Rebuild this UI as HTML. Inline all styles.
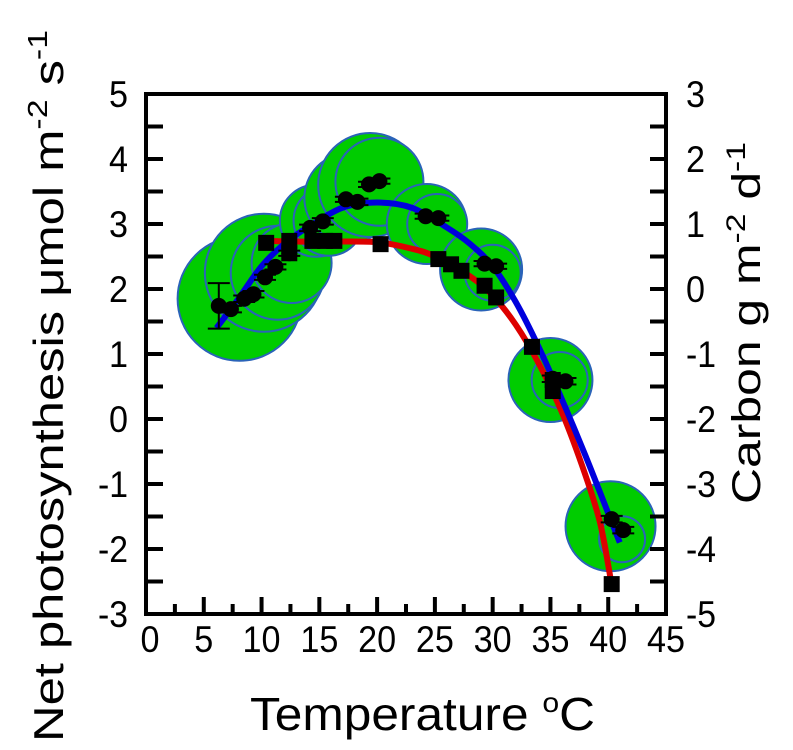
<!DOCTYPE html>
<html><head><meta charset="utf-8"><style>
body{margin:0;background:#fff}
svg{display:block;font-family:"Liberation Sans",sans-serif}
</style></head><body>
<svg id="chart" width="793" height="750" viewBox="0 0 793 750" xmlns="http://www.w3.org/2000/svg">
<g id="bubbles"></g>
<g id="lines"></g>
<g id="marks"></g>
<g id="axes"></g>
<text transform="translate(63,742) rotate(-90)" font-size="42" textLength="712" lengthAdjust="spacingAndGlyphs">Net photosynthesis μmol m<tspan dy="-16" font-size="28">-2</tspan><tspan dy="16"> s</tspan><tspan dy="-16" font-size="28">-1</tspan></text>
<text transform="translate(760,504) rotate(-90)" font-size="40" textLength="362" lengthAdjust="spacingAndGlyphs">Carbon g m<tspan dy="-15" font-size="27">-2</tspan><tspan dy="15"> d</tspan><tspan dy="-15" font-size="27">-1</tspan></text>
<text x="250" y="730" font-size="46" textLength="345" lengthAdjust="spacingAndGlyphs">Temperature <tspan dy="-18" font-size="28">o</tspan><tspan dy="18">C</tspan></text>
</svg>
<script>
const circleT=[6.3,7.35,8.5,9.3,10.3,11.2,12.4,14.2,15.3,17.3,18.3,19.3,20.2,24.2,25.3,29.3,30.3,35.2,36.3,40.3,41.3];
const circleY=[1.74,1.69,1.85,1.92,2.18,2.34,2.55,2.94,3.04,3.38,3.34,3.61,3.66,3.12,3.09,2.39,2.35,0.62,0.58,-1.54,-1.71];
const circleErr=[0.35,0.05,0.05,0.05,0.04,0.04,0.04,0.05,0.05,0.04,0.05,0.04,0.04,0.04,0.04,0.04,0.04,0.05,0.05,0.05,0.05];
const squareT=[10.4,12.4,12.4,14.4,15.5,16.3,20.3,25.3,26.4,27.3,29.3,30.3,33.4,35.2,35.2,40.3];
const squareC=[0.71,0.74,0.55,0.74,0.74,0.74,0.69,0.46,0.38,0.28,0.05,-0.13,-0.89,-1.4,-1.57,-4.54];
const bubbleT=[8.1,10.2,11.4,12.6,14.7,15.8,17.6,19.4,20.2,24.3,25.2,29.0,30.0,35.0,35.8,40.2,41.2];
const bubbleY=[1.85,2.25,2.25,2.4,3.05,3.05,3.4,3.6,3.65,3.0,3.0,2.3,2.25,0.6,0.6,-1.65,-1.85];
const bubbleR=[62,59,47,40,36,35,45,52,44,40,30,41,28,42,28,45,23];
const blueT=[6.1,8,10,12,14,17,20,23,26,28,30,32,34,36,38,40,41];
const blueY=[1.4,1.85,2.35,2.7,2.95,3.25,3.33,3.25,2.95,2.7,2.35,1.8,1.1,0.3,-0.55,-1.45,-1.9];
const redT=[10.4,13,16,20,23,25,28,30,32,34,36,38,39.3,40.2];
const redC=[0.74,0.73,0.73,0.72,0.62,0.5,0.2,-0.1,-0.55,-1.15,-1.9,-2.85,-3.6,-4.45];
const xTicks=[0,5,10,15,20,25,30,35,40,45];
const yLeftTicks=[5,4,3,2,1,0,-1,-2,-3];
const yRightTicks=[3,2,1,0,-1,-2,-3,-4,-5];

const L=146,R=666,T=94,B=614;
const xs=v=>L+(v-0)/45*(R-L);
const yl=v=>T+(5-v)/8*(B-T);
const yr=v=>T+(3-v)/8*(B-T);
const NS="http://www.w3.org/2000/svg";
function mk(tag,attrs,parent){const e=document.createElementNS(NS,tag);for(const k in attrs)e.setAttribute(k,attrs[k]);parent.appendChild(e);return e;}
const gB=document.getElementById('bubbles'),gL=document.getElementById('lines'),gM=document.getElementById('marks'),gA=document.getElementById('axes');
const tw=s=>String(s).split('').reduce((a,c)=>a+(c==='-'?11:19),0);

bubbleT.forEach((t,i)=>{
 const c=mk('circle',{cx:xs(t),cy:yl(bubbleY[i]),r:bubbleR[i],fill:'#00cc00',stroke:'#2a63b8','stroke-width':2},gB);
 
 
});
function smooth(px){let d=`M${px[0][0]},${px[0][1]}`;for(let i=0;i<px.length-1;i++){const p0=px[Math.max(0,i-1)],p1=px[i],p2=px[i+1],p3=px[Math.min(px.length-1,i+2)];d+=` C${p1[0]+(p2[0]-p0[0])/6},${p1[1]+(p2[1]-p0[1])/6} ${p2[0]-(p3[0]-p1[0])/6},${p2[1]-(p3[1]-p1[1])/6} ${p2[0]},${p2[1]}`;}return d;}
const red=mk('path',{d:smooth(redT.map((t,i)=>[xs(t),yr(redC[i])])),fill:'none',stroke:'#dd0000','stroke-width':6},gL);


const blue=mk('path',{d:smooth(blueT.map((t,i)=>[xs(t),yl(blueY[i])])),fill:'none',stroke:'#0000dd','stroke-width':6},gL);



circleT.forEach((t,i)=>{
 const x=xs(t),y=yl(circleY[i]),e=circleErr[i];
 const eb=mk('path',{d:`M${x},${yl(circleY[i]+e)}V${yl(circleY[i]-e)}M${x-11},${yl(circleY[i]+e)}h22M${x-11},${yl(circleY[i]-e)}h22`,stroke:'#000','stroke-width':2},gM);
 
 
 const c=mk('circle',{cx:x,cy:y,r:8,fill:'#000'},gM);
 
 
});
squareT.forEach((t,i)=>{
 const s=mk('rect',{x:xs(t)-8,y:yr(squareC[i])-8,width:16,height:16,fill:'#000'},gM);
 
 
});

const frame=mk('rect',{x:L,y:T,width:R-L,height:B-T,fill:'none',stroke:'#000','stroke-width':4},gA);


for(let v=0;v<=45;v+=2.5){const x=xs(v),len=(v%5===0)?17:10;const tk=mk('line',{x1:x,x2:x,y1:B,y2:B-len,stroke:'#000','stroke-width':4},gA);}
for(let v=-3;v<=5;v+=0.5){const y=yl(v);
 const a=mk('line',{x1:L,x2:L+17,y1:y,y2:y,stroke:'#000','stroke-width':4},gA);
 const b=mk('line',{x1:R,x2:R-16,y1:y,y2:y,stroke:'#000','stroke-width':4},gA);}
xTicks.forEach(v=>{const t=mk('text',{x:xs(v)+(v===0?4:0),y:652,'font-size':37,'text-anchor':'middle',textLength:tw(v),lengthAdjust:'spacingAndGlyphs'},gA);t.textContent=v;});
yLeftTicks.forEach(v=>{const t=mk('text',{x:128,y:yl(v)+13,'font-size':37,'text-anchor':'end',textLength:tw(v),lengthAdjust:'spacingAndGlyphs'},gA);t.textContent=v;});
yRightTicks.forEach(v=>{const t=mk('text',{x:686,y:yr(v)+13,'font-size':37,textLength:tw(v),lengthAdjust:'spacingAndGlyphs'},gA);t.textContent=v;});
</script>
</body></html>
